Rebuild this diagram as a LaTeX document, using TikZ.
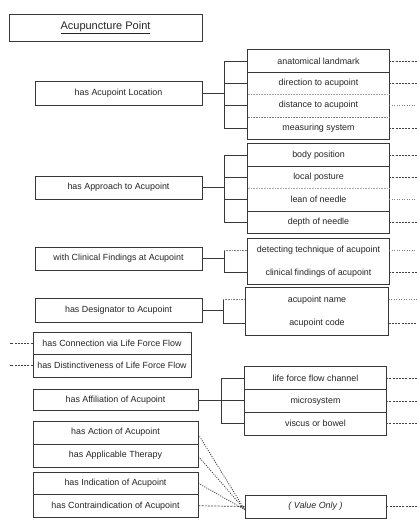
\documentclass[tikz,border=0pt]{standalone}
\usepackage{fontspec}
\setmainfont{Liberation Sans}
\begin{document}
\begin{tikzpicture}[x=1pt,y=-1pt,
  ln/.style={draw=black!78, line width=0.75pt},
  box/.style={ln, inner sep=0pt, font=\fontsize{8.9}{10}\selectfont, text=black!85},
  cell/.style={inner sep=0pt, font=\fontsize{8.9}{10}\selectfont, text=black!85},
  faint/.style={draw=black!35, line width=0.6pt, densely dotted},
  stub/.style={draw=black!75, line width=0.7pt, dash pattern=on 2pt off 1.2pt},
  lstub/.style={draw=black!50, line width=0.6pt, dash pattern=on 1pt off 1.5pt},
  conv/.style={draw=black!80, line width=0.8pt, dash pattern=on 1pt off 1.3pt}]
\fill[white] (0,0) rectangle (417,525);
\useasboundingbox (0,0) rectangle (417,525);
\coordinate (redge) at (417,0);
\coordinate (ledge) at (10,0);
\coordinate (bxa) at (224,0);
\coordinate (bxb) at (223,0);
\coordinate (bxc) at (221,0);

% title
\node[box, minimum width=193pt, minimum height=27pt, font=\fontsize{11}{12}\selectfont] (title) at (105.5,27.5) {\underline{Acupuncture Point}};

% left boxes
\node[box, minimum width=167pt, minimum height=24pt] (loc) at (118.5,93) {has Acupoint Location};
\node[box, minimum width=167pt, minimum height=23pt] (app) at (118.5,187.5) {has Approach to Acupoint};
\node[box, minimum width=167pt, minimum height=23pt] (clin) at (118.5,258.5) {with Clinical Findings at Acupoint};
\node[box, minimum width=167pt, minimum height=24pt] (des) at (118.5,310) {has Designator to Acupoint};
\node[box, minimum width=158pt, minimum height=22pt] (con) at (112,343) {has Connection via Life Force Flow};
\node[box, minimum width=158pt, minimum height=23pt] (dis) at (112,365.5) {has Distinctiveness of Life Force Flow};
\node[box, minimum width=165pt, minimum height=21pt] (aff) at (115.5,400) {has Affiliation of Acupoint};
\node[box, minimum width=165pt, minimum height=23pt] (act) at (115.5,432.5) {has Action of Acupoint};
\node[box, minimum width=165pt, minimum height=23pt] (ther) at (115.5,455.5) {has Applicable Therapy};
\node[box, minimum width=165pt, minimum height=22.5pt] (ind) at (115.5,483.25) {has Indication of Acupoint};
\node[box, minimum width=165pt, minimum height=22.5pt] (contra) at (115.5,505.75) {has Contraindication of Acupoint};

% group 1
\node[cell, minimum width=141pt, minimum height=22.25pt] (a1) at (318.5,61.1) {anatomical landmark};
\node[cell, minimum width=141pt, minimum height=22.25pt] (a2) at (318.5,83.4) {direction to acupoint};
\node[cell, minimum width=141pt, minimum height=22.25pt] (a3) at (318.5,105.6) {distance to acupoint};
\node[cell, minimum width=141pt, minimum height=22.25pt] (a4) at (318.5,127.9) {measuring system};
\draw[ln] (a1.north west) rectangle (a4.south east);
\draw[ln] (a1.south west) -- (a1.south east);
\draw[faint] (a2.south west) -- (a2.south east);
\draw[faint, draw=black!50] (a3.south west) -- (a3.south east);

% group 2
\node[cell, minimum width=141pt, minimum height=22.25pt] (b1) at (318.5,155.1) {body position};
\node[cell, minimum width=141pt, minimum height=22.25pt] (b2) at (318.5,177.4) {local posture};
\node[cell, minimum width=141pt, minimum height=22.25pt] (b3) at (318.5,199.6) {lean of needle};
\node[cell, minimum width=141pt, minimum height=22.25pt] (b4) at (318.5,221.9) {depth of needle};
\draw[ln] (b1.north west) rectangle (b4.south east);
\draw[ln] (b1.south west) -- (b1.south east);
\draw[faint] (b2.south west) -- (b2.south east);
\draw[ln] (b3.south west) -- (b3.south east);

% group 3
\node[cell, minimum width=141pt, minimum height=22.5pt] (c1) at (318.5,250.25) {detecting technique of acupoint};
\node[cell, minimum width=141pt, minimum height=22.5pt] (c2) at (318.5,272.75) {clinical findings of acupoint};
\draw[ln] (c1.north west) rectangle (c2.south east);

% group 4
\node[cell, minimum width=143pt, minimum height=23.5pt] (d1) at (317,299.75) {acupoint name};
\node[cell, minimum width=143pt, minimum height=23.5pt] (d2) at (317,323.25) {acupoint code};
\draw[ln] (d1.north west) rectangle (d2.south east);

% group 5
\node[cell, minimum width=141pt, minimum height=22.67pt] (e1) at (315.5,378.3) {life force flow channel};
\node[cell, minimum width=141pt, minimum height=22.67pt] (e2) at (315.5,401) {microsystem};
\node[cell, minimum width=141pt, minimum height=22.67pt] (e3) at (315.5,423.7) {viscus or bowel};
\draw[ln] (e1.north west) rectangle (e3.south east);
\draw[ln] (e1.south west) -- (e1.south east);
\draw[ln] (e2.south west) -- (e2.south east);

% value only
\node[box, minimum width=141pt, minimum height=23pt] (vo) at (315.5,506.5) {\textit{( Value Only )}};

% brackets
\draw[ln] (loc.east) -- (loc.east -| bxa);
\draw[ln] (a1.west -| bxa) -- (a4.west -| bxa);
\foreach \n in {a1,a2,a3,a4} \draw[ln] (\n.west -| bxa) -- (\n.west);
\draw[ln] (app.east) -- (app.east -| bxa);
\draw[ln] (b1.west -| bxa) -- (b4.west -| bxa);
\foreach \n in {b1,b2,b3,b4} \draw[ln] (\n.west -| bxa) -- (\n.west);
\draw[ln] (clin.east) -- (clin.east -| bxa);
\draw[ln] (c1.west -| bxa) -- (c2.west -| bxa);
\draw[faint, draw=black!50] (c1.west -| bxa) -- (c1.west);
\draw[ln] (c2.west -| bxa) -- (c2.west);
\draw[ln] (des.east) -- (des.east -| bxb);
\draw[ln] (d1.west -| bxb) -- (d2.west -| bxb);
\draw[faint, draw=black!50] (d1.west -| bxb) -- (d1.west);
\draw[ln] (d2.west -| bxb) -- (d2.west);
\draw[ln] (aff.east) -- (aff.east -| e2.west);
\draw[ln] (e1.west -| bxc) -- (e3.west -| bxc);
\draw[ln] (e1.west -| bxc) -- (e1.west);
\draw[ln] (e3.west -| bxc) -- (e3.west);

% right stubs
\foreach \n in {a1,a2,a4,b1,b2,b4,c2,d2,e1,e2,e3,vo} \draw[stub] (\n.east) -- (\n.east -| redge);
\foreach \n in {a3,b3,c1,d1} \draw[lstub] (\n.east) -- (\n.east -| redge);

% left stubs
\draw[stub] (con.west) -- (con.west -| ledge);
\draw[stub] (dis.west) -- (dis.west -| ledge);

% convergence to value only
\draw[conv] ([yshift=-2pt]act.east) -- ([yshift=-3pt]vo.west);
\draw[conv] ([yshift=-1pt]ther.east) -- ([yshift=-3pt]vo.west);
\draw[conv] (ind.east) -- ([yshift=-3pt]vo.west);
\draw[stub] (contra.east) -- (vo.west);
\end{tikzpicture}
\end{document}
